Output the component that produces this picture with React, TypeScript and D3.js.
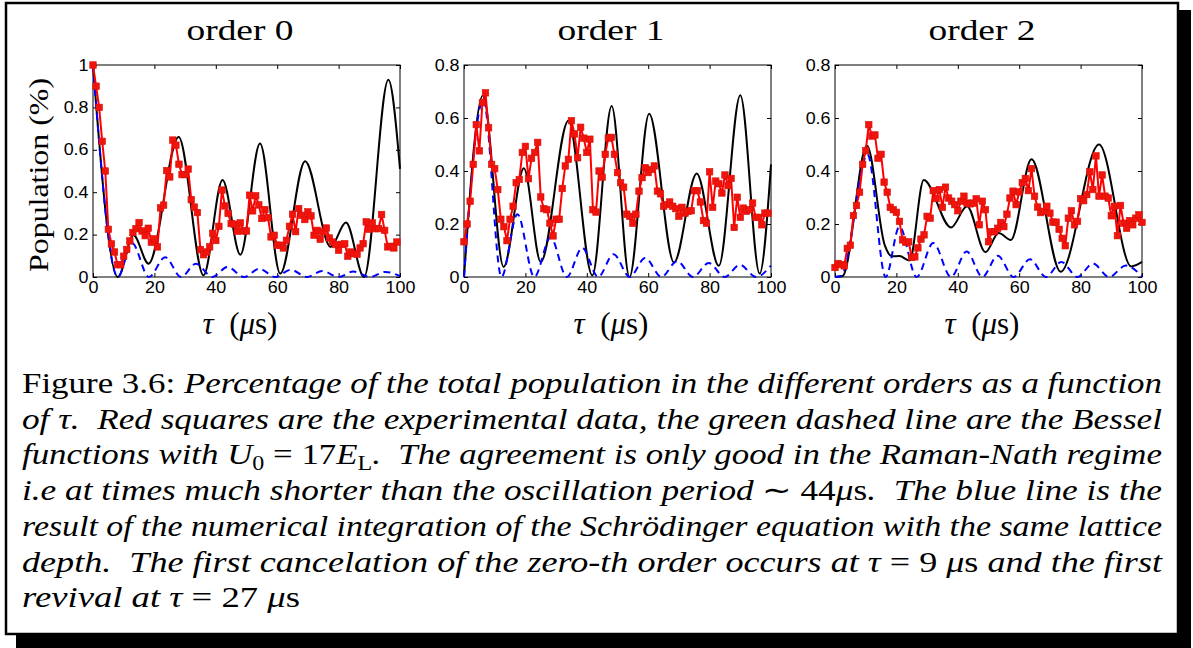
import React, { useEffect, useRef } from 'react';
import * as d3 from 'd3';

// sampling times of the measured points (µs)
const TAU = [
  0, 1, 2, 3, 4, 5, 6, 7, 8, 9, 10, 11, 12, 13, 14, 15, 16, 17, 18, 19,
  20, 21, 22, 23, 24, 25, 26, 27, 28, 29, 30, 31, 32, 33, 34, 35, 36, 37, 38, 39,
  40, 41, 42, 43, 44, 45, 46, 47, 48, 49, 50, 51, 52, 53, 54, 55, 56, 57, 58, 59,
  60, 61, 62, 63, 64, 65, 66, 67, 68, 69, 70, 71, 72, 73, 74, 75, 76, 77, 78, 79,
  80, 81, 82, 83, 84, 85, 86, 87, 88, 89, 90, 91, 92, 93, 94, 95, 96, 97, 98, 99, 100,
];

const PANEL_TITLES = ['order 0', 'order 1', 'order 2'];
const X_TICKS = [0, 20, 40, 60, 80, 100];
const Y_TICKS_0 = [0, 0.2, 0.4, 0.6, 0.8, 1];
const Y_TICKS_12 = [0, 0.2, 0.4, 0.6, 0.8];

// red squares: experimental data
const RED_0 = [
  1.0, 0.9, 0.8, 0.64, 0.5, 0.225, 0.156, 0.118, 0.058, 0.058,
  0.098, 0.13, 0.17, 0.21, 0.228, 0.257, 0.217, 0.195, 0.23, 0.164,
  0.18, 0.142, 0.326, 0.339, 0.502, 0.472, 0.646, 0.622, 0.532, 0.483,
  0.483, 0.509, 0.365, 0.33, 0.304, 0.129, 0.105, 0.118, 0.142, 0.206,
  0.172, 0.239, 0.41, 0.335, 0.3, 0.252, 0.249, 0.216, 0.255, 0.217,
  0.217, 0.386, 0.312, 0.383, 0.34, 0.276, 0.318, 0.28, 0.189, 0.197,
  0.15, 0.15, 0.137, 0.173, 0.239, 0.296, 0.214, 0.323, 0.291, 0.271,
  0.307, 0.288, 0.197, 0.22, 0.178, 0.213, 0.231, 0.184, 0.165, 0.153,
  0.126, 0.154, 0.157, 0.098, 0.118, 0.11, 0.107, 0.137, 0.157, 0.26,
  0.225, 0.255, 0.228, 0.228, 0.295, 0.22, 0.142, 0.145, 0.137, 0.165,
];
const RED_1 = [
  0.133, 0.2, 0.286, 0.425, 0.575, 0.476, 0.658, 0.695, 0.563, 0.425,
  0.409, 0.33, 0.218, 0.19, 0.137, 0.218, 0.267, 0.356, 0.368, 0.47,
  0.493, 0.371, 0.448, 0.47, 0.508, 0.302, 0.258, 0.254, 0.203, 0.155,
  0.218, 0.218, 0.334, 0.419, 0.444, 0.59, 0.54, 0.45, 0.565, 0.524,
  0.47, 0.52, 0.254, 0.245, 0.4, 0.377, 0.463, 0.524, 0.527, 0.463,
  0.394, 0.356, 0.339, 0.237, 0.229, 0.203, 0.237, 0.324, 0.375, 0.413,
  0.394, 0.406, 0.419, 0.324, 0.314, 0.267, 0.273, 0.283, 0.267, 0.258,
  0.229, 0.263, 0.241, 0.248, 0.25, 0.326, 0.326, 0.283, 0.213, 0.203,
  0.397, 0.263, 0.362, 0.352, 0.317, 0.385, 0.345, 0.372, 0.187, 0.301,
  0.225, 0.26, 0.248, 0.254, 0.279, 0.225, 0.225, 0.197, 0.241, 0.241,
];
const RED_2 = [
  0.036, 0.051, 0.047, 0.042, 0.108, 0.12, 0.232, 0.27, 0.32, 0.425,
  0.476, 0.575, 0.532, 0.536, 0.448, 0.463, 0.358, 0.32, 0.263, 0.254,
  0.244, 0.21, 0.14, 0.131, 0.133, 0.074, 0.076, 0.11, 0.143, 0.159,
  0.229, 0.222, 0.326, 0.296, 0.33, 0.263, 0.339, 0.298, 0.286, 0.273,
  0.25, 0.286, 0.305, 0.279, 0.276, 0.279, 0.295, 0.197, 0.286, 0.254,
  0.133, 0.171, 0.171, 0.184, 0.206, 0.19, 0.237, 0.298, 0.324, 0.273,
  0.321, 0.356, 0.372, 0.326, 0.409, 0.305, 0.264, 0.243, 0.248, 0.267,
  0.241, 0.207, 0.207, 0.18, 0.146, 0.118, 0.222, 0.25, 0.197, 0.21,
  0.296, 0.288, 0.311, 0.397, 0.33, 0.457, 0.305, 0.385, 0.305, 0.298,
  0.231, 0.267, 0.156, 0.27, 0.203, 0.184, 0.213, 0.197, 0.222, 0.235,
  0.206,
];

// black line: numerical integration (extrema)
const BLACK_0 = [
  [0, 1], [8.1, 0], [13.2, 0.197], [18.1, 0.063], [27.9, 0.66], [36, 0.008],
  [42.2, 0.457], [48, 0.105], [54.4, 0.63], [61, 0.016], [69.1, 0.546],
  [77.4, 0.142], [82.4, 0.257], [88.3, 0], [96.2, 0.93], [100, 0.51],
];
const BLACK_1 = [
  [0, 0], [6.2, 0.686], [12.9, 0.038], [19.5, 0.41], [25, 0.057], [34, 0.59],
  [41.8, 0.006], [48.1, 0.645], [53.9, 0], [60.3, 0.616], [68.4, 0.055],
  [75.8, 0.391], [83, 0.042], [90, 0.686], [96.3, 0.013], [100, 0.425],
];
const BLACK_2 = [
  [0, 0], [2.5, 0.004], [10.4, 0.495], [16.2, 0.12], [18.5, 0.078], [21, 0.079],
  [24.3, 0.062], [28.9, 0.366], [37.8, 0.187], [43, 0.267], [49, 0.094],
  [53.3, 0.166], [57.3, 0.14], [64, 0.444], [73.5, 0.02], [86, 0.5],
  [96.5, 0.04], [100, 0.057],
];

// blue dashed: Bessel functions
const BLUE_0 = [
  [0, 1], [8.1, 0], [12.7, 0.16], [18.2, 0], [23.5, 0.093], [28.7, 0],
  [33.5, 0.063], [38.9, 0], [43.8, 0.047], [49.2, 0], [54.2, 0.039], [59.4, 0],
  [64.4, 0.034], [69.7, 0], [74.7, 0.028], [80, 0], [84.8, 0.026], [90.2, 0],
  [95.2, 0.024], [100, 0.004],
];
const BLUE_1 = [
  [0, 0], [6.3, 0.67], [12.2, 0], [17.4, 0.237], [22.9, 0], [28.2, 0.149],
  [33.5, 0], [38.5, 0.11], [43.7, 0], [48.7, 0.086], [54, 0], [59, 0.072],
  [64.3, 0], [69.4, 0.06], [74.6, 0], [79.7, 0.053], [84.9, 0], [89.9, 0.046],
  [95.1, 0], [100, 0.043],
];
const BLUE_2 = [
  [0, 0], [2, 0.004], [10.6, 0.462], [16.5, 0], [21, 0.19], [26.6, 0],
  [32, 0.128], [37.8, 0], [42.9, 0.096], [48, 0], [53, 0.08], [58.2, 0],
  [63.5, 0.067], [68.7, 0], [73.7, 0.057], [79, 0], [84, 0.051], [89.3, 0],
  [94.7, 0.043], [100, 0.002],
];

const W = 1193;
const H = 648;
const PANEL_LEFTS = [93, 464, 835];
const PLOT_W = 307;
const PLOT_TOP = 65;
const PLOT_BOTTOM = 277;
const STRETCH = 1.12;

const SANS = "'Liberation Sans', Arimo, Arial, Helvetica, sans-serif";
const SERIF = "'Liberation Serif', Tinos, 'Times New Roman', Times, serif";

interface PanelCfg {
  title: string;
  left: number;
  yMax: number;
  yTicks: number[];
  red: number[];
  black: number[][];
  blue: number[][];
}

const PANELS: PanelCfg[] = [
  { title: PANEL_TITLES[0], left: PANEL_LEFTS[0], yMax: 1, yTicks: Y_TICKS_0, red: RED_0, black: BLACK_0, blue: BLUE_0 },
  { title: PANEL_TITLES[1], left: PANEL_LEFTS[1], yMax: 0.8, yTicks: Y_TICKS_12, red: RED_1, black: BLACK_1, blue: BLUE_1 },
  { title: PANEL_TITLES[2], left: PANEL_LEFTS[2], yMax: 0.8, yTicks: Y_TICKS_12, red: RED_2, black: BLACK_2, blue: BLUE_2 },
];

const serif = { fontFamily: SERIF };

const Panel: React.FC<{ cfg: PanelCfg; showYLabel: boolean }> = ({ cfg, showYLabel }) => {
  const bottomRef = useRef<SVGGElement>(null);
  const topRef = useRef<SVGGElement>(null);
  const leftRef = useRef<SVGGElement>(null);
  const rightRef = useRef<SVGGElement>(null);

  const x = d3.scaleLinear().domain([0, 100]).range([cfg.left, cfg.left + PLOT_W]);
  const y = d3.scaleLinear().domain([0, cfg.yMax]).range([PLOT_BOTTOM, PLOT_TOP]);

  useEffect(() => {
    const fmt = (d: d3.NumberValue) => String(+(+d).toFixed(1));
    const none = () => '';
    const style = (g: d3.Selection<SVGGElement, unknown, null, undefined>) => {
      g.select('.domain').remove();
      g.attr('font-size', 16).style('font-family', SANS);
      g.selectAll('line').attr('stroke', '#000').attr('stroke-width', 1);
      g.selectAll('text').attr('fill', '#000').attr('transform', `scale(${STRETCH},1)`);
    };
    d3.select(bottomRef.current!)
      .call(d3.axisBottom(x).tickValues(X_TICKS).tickSize(-4).tickPadding(5).tickFormat(fmt))
      .call(style);
    d3.select(topRef.current!)
      .call(d3.axisTop(x).tickValues(X_TICKS).tickSize(-4).tickFormat(none))
      .call(style);
    d3.select(leftRef.current!)
      .call(d3.axisLeft(y).tickValues(cfg.yTicks).tickSize(-4).tickPadding(4).tickFormat(fmt))
      .call(style);
    d3.select(rightRef.current!)
      .call(d3.axisRight(y).tickValues(cfg.yTicks).tickSize(-4).tickFormat(none))
      .call(style);
  }, []);

  const smooth = d3
    .line<number[]>()
    .x(d => x(d[0]))
    .y(d => y(d[1]))
    .curve(d3.curveMonotoneX);
  const redLine = d3
    .line<number>()
    .x((_, i) => x(TAU[i]))
    .y(d => y(d));

  const cx = cfg.left + PLOT_W / 2 - 6.5;
  const m = 6.5;

  return (
    <g>
      <text x={cx} y={40} textAnchor="middle" style={serif} fontSize={30}
        textLength={107} lengthAdjust="spacingAndGlyphs">{cfg.title}</text>

      <rect x={cfg.left} y={PLOT_TOP} width={PLOT_W} height={PLOT_BOTTOM - PLOT_TOP}
        fill="none" stroke="#000" strokeWidth={1} />
      <g ref={bottomRef} transform={`translate(0,${PLOT_BOTTOM})`} />
      <g ref={topRef} transform={`translate(0,${PLOT_TOP})`} />
      <g ref={leftRef} transform={`translate(${cfg.left},0)`} />
      <g ref={rightRef} transform={`translate(${cfg.left + PLOT_W},0)`} />

      <path d={smooth(cfg.black) || ''} fill="none" stroke="#000" strokeWidth={2} />
      <path d={smooth(cfg.blue) || ''} fill="none" stroke="#0000ff" strokeWidth={2}
        strokeDasharray="7,5" />
      <path d={redLine(cfg.red) || ''} fill="none" stroke="#ff0000" strokeWidth={2} />
      {cfg.red.map((v, i) => (
        <rect key={i} x={x(TAU[i]) - m / 2} y={y(v) - m / 2} width={m} height={m}
          fill="#f0140c" stroke="#d81008" strokeWidth={0.6} />
      ))}

      <text x={cx} y={334} textAnchor="middle" style={{ ...serif, whiteSpace: 'pre' }} fontSize={31}>
        <tspan fontStyle="italic">τ</tspan>
        <tspan>{'  ('}</tspan>
        <tspan fontStyle="italic">μ</tspan>
        <tspan>s)</tspan>
      </text>

      {showYLabel && (
        <text transform={`translate(48,175) rotate(-90)`} textAnchor="middle"
          style={serif} fontSize={28} textLength={194} lengthAdjust="spacingAndGlyphs">
          Population (%)
        </text>
      )}
    </g>
  );
};

const CAP_X = 22;
const CAP_W = 1140;
const CAP_Y0 = 393;
const CAP_DY = 35.7;

const CapLine: React.FC<{ row: number; width: number; children: React.ReactNode }> = ({ row, width, children }) => (
  <text x={CAP_X} y={CAP_Y0 + row * CAP_DY} fontSize={29}
    textLength={width} lengthAdjust="spacingAndGlyphs" style={{ ...serif, whiteSpace: 'pre' }}>
    {children}
  </text>
);

const it = (s: string) => <tspan fontStyle="italic">{s}</tspan>;

const App: React.FC = () => {
  return (
    <svg width={W} height={H} style={{ position: 'absolute', left: 0, top: 0, background: '#fff' }}>
      {/* frame with drop shadow */}
      <rect x={1178} y={10} width={13} height={638} fill="#000" />
      <rect x={16} y={635} width={1175} height={13} fill="#000" />
      <rect x={6} y={3} width={1172} height={631} fill="none" stroke="#000" strokeWidth={2.5} />

      {PANELS.map((p, i) => (
        <Panel key={i} cfg={p} showYLabel={i === 0} />
      ))}

      <CapLine row={0} width={CAP_W}>
        <tspan>Figure 3.6: </tspan>
        {it('Percentage of the total population in the different orders as a function')}
      </CapLine>
      <CapLine row={1} width={CAP_W}>
        {it('of τ.  Red squares are the experimental data, the green dashed line are the Bessel')}
      </CapLine>
      <CapLine row={2} width={CAP_W}>
        {it('functions with U')}
        <tspan fontSize={20} dy={6}>0</tspan>
        <tspan dy={-6}> = 17</tspan>
        {it('E')}
        <tspan fontSize={20} dy={6}>L</tspan>
        <tspan fontStyle="italic" dy={-6}>.  The agreement is only good in the Raman-Nath regime</tspan>
      </CapLine>
      <CapLine row={3} width={CAP_W}>
        {it('i.e at times much shorter than the oscillation period ')}
        <tspan>∼ 44</tspan>
        {it('μ')}
        <tspan>s</tspan>
        {it('.  The blue line is the')}
      </CapLine>
      <CapLine row={4} width={CAP_W}>
        {it('result of the numerical integration of the Schrödinger equation with the same lattice')}
      </CapLine>
      <CapLine row={5} width={CAP_W}>
        {it('depth.  The first cancelation of the zero-th order occurs at τ')}
        <tspan> = 9 </tspan>
        {it('μ')}
        <tspan>s</tspan>
        {it(' and the first')}
      </CapLine>
      <CapLine row={6} width={278}>
        {it('revival at τ')}
        <tspan> = 27 </tspan>
        {it('μ')}
        <tspan>s</tspan>
      </CapLine>
    </svg>
  );
};

export default App;
